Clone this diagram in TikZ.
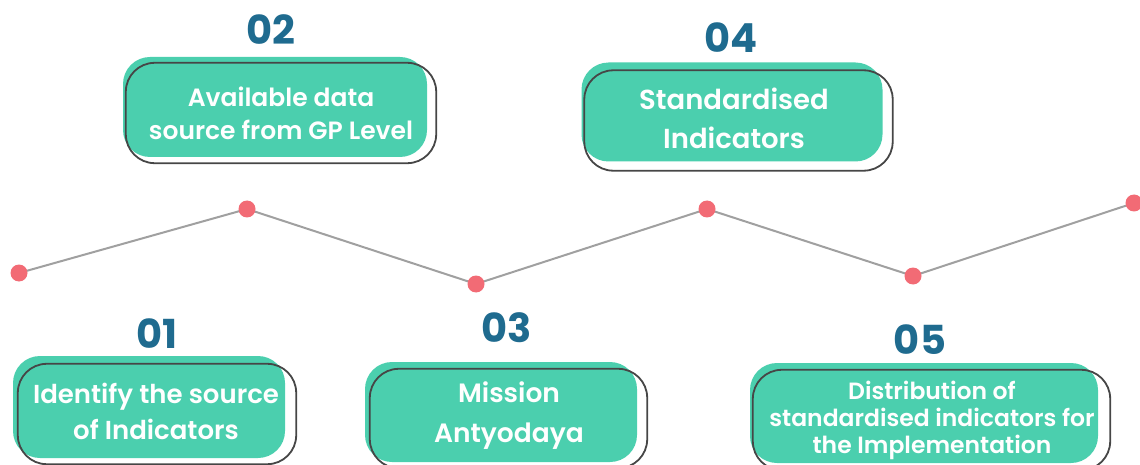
\documentclass[tikz,border=0pt]{standalone}
\usepackage{fontspec}
\setmainfont{Poppins}
\newfontfamily\semib{Poppins}[UprightFont=* SemiBold]
\definecolor{tealbox}{RGB}{75,207,174}
\definecolor{numblue}{RGB}{31,107,143}
\definecolor{dotred}{RGB}{242,107,117}
\definecolor{linegray}{RGB}{160,160,160}
\definecolor{outl}{RGB}{70,70,70}
\begin{document}
\begin{tikzpicture}[x=1pt,y=-1pt,
  box/.style={fill=tealbox, rounded corners=27pt, inner sep=0pt},
  outline/.style={draw=outl, line width=1.8pt, rounded corners=29pt},
  boxtext/.style={text=white, align=center, inner sep=0pt},
  num/.style={text=numblue, inner sep=0pt, font=\fontsize{40}{40}\selectfont\bfseries},
  dot/.style={circle, fill=dotred, minimum size=17pt, inner sep=0pt},
  link/.style={draw=linegray, line width=2pt}]
\useasboundingbox (0,0) rectangle (1140,465);
% zigzag
\coordinate (c1) at (19,273);
\coordinate (c2) at (247,209);
\coordinate (c3) at (476,284);
\coordinate (c4) at (707,209);
\coordinate (c5) at (913,276);
\coordinate (c6) at (1134,203);
\draw[link] (c1) -- (c2) -- (c3) -- (c4) -- (c5) -- (c6);
\node[dot] (d1) at (c1) {};
\node[dot] (d2) at (c2) {};
\node[dot] (d3) at (c3) {};
\node[dot] (d4) at (c4) {};
\node[dot] (d5) at (c5) {};
\node[dot] (d6) at (c6) {};
% boxes
\node[box, minimum width=304pt, minimum height=100pt] (b2) at (275,107) {};
\draw[outline] ([shift={(3,6)}]b2.north west) rectangle ([shift={(9,6)}]b2.south east);
\node[box, minimum width=301pt, minimum height=99pt] (b4) at (732,112) {};
\draw[outline] ([shift={(3,8)}]b4.north west) rectangle ([shift={(10,9)}]b4.south east);
\node[box, minimum width=272pt, minimum height=102pt] (b1) at (149,407) {};
\draw[outline] ([shift={(5,8)}]b1.north west) rectangle ([shift={(11,6)}]b1.south east);
\node[box, minimum width=272pt, minimum height=100pt] (b3) at (501,412) {};
\draw[outline] ([shift={(5,7)}]b3.north west) rectangle ([shift={(10,6)}]b3.south east);
\node[box, minimum width=348pt, minimum height=100pt] (b5) at (924,413) {};
\draw[outline] ([shift={(3,7)}]b5.north west) rectangle ([shift={(12,7)}]b5.south east);
% texts
\node[boxtext, font=\fontsize{25}{33}\semib] (t2) at (281,113) {Available data\\source from GP Level};
\node[boxtext, font=\fontsize{27.5}{39}\semib] (t4) at (734,118) {Standardised\\Indicators};
\node[boxtext, font=\fontsize{26}{36}\semib] (t1) at (156,411) {Identify the source\\of Indicators};
\node[boxtext, font=\fontsize{26.5}{40}\semib] (t3) at (509,416) {Mission\\Antyodaya};
\node[boxtext, font=\fontsize{23.5}{27}\semib] (t5) at (932,420) {Distribution of\\standardised indicators for\\the Implementation};
% numbers
\node[num] (n2) at (271,30) {02};
\node[num] (n4) at (731,38) {04};
\node[num] (n1) at (157,334) {01};
\node[num] (n3) at (507,328) {03};
\node[num] (n5) at (920,340) {05};
\end{tikzpicture}
\end{document}
